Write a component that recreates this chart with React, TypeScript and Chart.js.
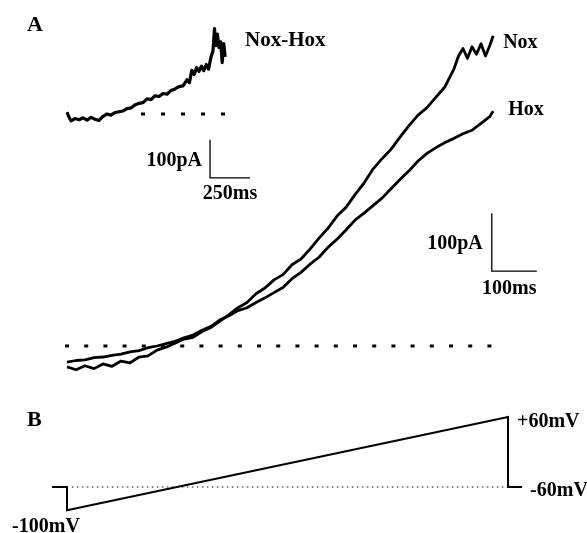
import { useEffect, useRef } from 'react';
import { Chart, registerables } from 'chart.js';

Chart.register(...registerables);

const W = 587;
const H = 533;

// ---- Panel A: whole-cell currents (time in ms, current in pA) ----
const NOX_T = [0, 20, 40, 60, 80, 100, 120, 140, 160, 180, 200, 220, 240, 260, 280, 300, 320, 340, 360, 380, 400, 420, 440, 460, 480, 500, 520, 540, 560, 580, 600, 620, 640, 660, 680, 700, 720, 740, 760, 780, 800, 820, 840, 860, 870, 880, 890, 900, 910, 920, 930, 940, 947];
const NOX_I = [-36, -41, -34, -39, -31, -35, -26, -29, -19, -17, -7, -2, 5, 12, 15, 25, 32, 43, 54, 66, 75, 90, 100, 114, 123, 140, 150, 167, 186, 203, 224, 239, 261, 281, 305, 323, 339, 360, 380, 398, 411, 429, 447, 478, 500, 513, 496, 516, 503, 521, 500, 519, 535];

const HOX_T = [0, 20, 40, 60, 80, 100, 120, 140, 160, 180, 200, 220, 240, 260, 280, 300, 320, 340, 360, 380, 400, 420, 440, 460, 480, 500, 520, 540, 560, 580, 600, 620, 640, 660, 680, 700, 720, 740, 760, 780, 800, 820, 840, 860, 880, 900, 920, 940, 947];
const HOX_I = [-28, -25, -24, -20, -19, -16, -14, -10, -8, -3, 0, 4, 8, 14, 19, 27, 34, 45, 52, 61, 66, 75, 83, 92, 101, 116, 127, 141, 153, 170, 184, 200, 217, 229, 242, 255, 271, 287, 302, 319, 332, 342, 351, 358, 366, 372, 384, 396, 405];

// Inset: Nox - Hox difference current
const DIFF_T = [0, 12, 25, 50, 75, 100, 125, 150, 175, 200, 225, 250, 275, 300, 325, 350, 375, 400, 425, 450, 475, 500, 525, 550, 575, 600, 625, 650, 675, 700, 725, 750, 765, 780, 795, 810, 825, 840, 855, 870, 885, 900, 912, 922, 930, 940, 950, 960, 970, 980, 988];
const DIFF_I = [5, -8, -18, -12, -15, -10, -16, -9, -14, -17, -6, 0, -3, 4, 6, 8, 14, 16, 24, 28, 30, 40, 38, 48, 46, 54, 52, 62, 66, 72, 74, 90, 82, 115, 104, 122, 112, 126, 114, 130, 118, 150, 165, 225, 180, 210, 175, 190, 135, 185, 150];

// ---- Panel B: voltage protocol (time in ms, potential in mV) ----
const PROTO_T = [-34, 0, 0, 1000, 1000, 1032];
const PROTO_MV = [-60, -60, -100, 60, -60, -60];
const HOLDING_MV = -60;

// scale bars: origin time, origin current, time length, current length
const BAR_MAIN = { t: 944, i: 129, dt: 100, di: 100 };
const BAR_INSET = { t: 894, i: -168, dt: 250, di: 100 };

// ---- layout helpers (pixel anchors -> axis ranges) ----
function xRange(px0: number, v0: number, ppu: number) {
  return { min: v0 - px0 / ppu, max: v0 + (W - px0) / ppu };
}
function yRange(py0: number, v0: number, ppu: number) {
  return { min: v0 - (H - py0) / ppu, max: v0 + py0 / ppu };
}

const FONT = "'Liberation Serif', 'Times New Roman', serif";

const pts = (xs: number[], ys: number[]) => xs.map((x, i) => ({ x, y: ys[i] }));

type Lbl = {
  text: string;
  xs: string; xv: number; ys: string; yv: number;
  dx: number; dy: number; size: number; align: CanvasTextAlign;
};

const LABELS: Lbl[] = [
  { text: 'Nox-Hox', xs: 'xI', xv: DIFF_T[DIFF_T.length - 1], ys: 'yI', yv: DIFF_I[DIFF_I.length - 1], dx: 20, dy: -16, size: 21, align: 'left' },
  { text: 'Nox', xs: 'x', xv: NOX_T[NOX_T.length - 1], ys: 'y', yv: NOX_I[NOX_I.length - 1], dx: 10, dy: 7, size: 20, align: 'left' },
  { text: 'Hox', xs: 'x', xv: HOX_T[HOX_T.length - 1], ys: 'y', yv: HOX_I[HOX_I.length - 1], dx: 15, dy: -1, size: 20, align: 'left' },
  { text: '100pA', xs: 'x', xv: BAR_MAIN.t, ys: 'y', yv: BAR_MAIN.i + BAR_MAIN.di / 2, dx: -9, dy: 2, size: 20, align: 'right' },
  { text: '100ms', xs: 'x', xv: BAR_MAIN.t + BAR_MAIN.dt / 2, ys: 'y', yv: BAR_MAIN.i, dx: -5, dy: 18, size: 20, align: 'center' },
  { text: '100pA', xs: 'xI', xv: BAR_INSET.t, ys: 'yI', yv: BAR_INSET.i + BAR_INSET.di / 2, dx: -8, dy: 2, size: 20, align: 'right' },
  { text: '250ms', xs: 'xI', xv: BAR_INSET.t + BAR_INSET.dt / 2, ys: 'yI', yv: BAR_INSET.i, dx: 0, dy: 16, size: 20, align: 'center' },
  { text: '-100mV', xs: 'xB', xv: PROTO_T[2], ys: 'yB', yv: PROTO_MV[2], dx: -21, dy: 16, size: 20, align: 'center' },
  { text: '+60mV', xs: 'xB', xv: PROTO_T[3], ys: 'yB', yv: PROTO_MV[3], dx: 9, dy: 5, size: 20, align: 'left' },
  { text: '-60mV', xs: 'xB', xv: PROTO_T[5], ys: 'yB', yv: PROTO_MV[5], dx: 8, dy: 4, size: 20, align: 'left' },
];

const labelPlugin = {
  id: 'figureLabels',
  afterDraw(chart: any) {
    const ctx = chart.ctx as CanvasRenderingContext2D;
    const s = chart.scales;
    ctx.save();
    ctx.fillStyle = '#000';
    ctx.textBaseline = 'middle';
    // panel letters
    ctx.font = `bold 22px ${FONT}`;
    ctx.textAlign = 'left';
    ctx.fillText('A', chart.chartArea.left + 27, chart.chartArea.top + 25);
    ctx.fillText('B', chart.chartArea.left + 27, chart.chartArea.top + 420);
    for (const L of LABELS) {
      const px = s[L.xs].getPixelForValue(L.xv) + L.dx;
      const py = s[L.ys].getPixelForValue(L.yv) + L.dy;
      ctx.font = `bold ${L.size}px ${FONT}`;
      ctx.textAlign = L.align;
      ctx.fillText(L.text, px, py);
    }
    ctx.restore();
  },
};

export default function App() {
  const ref = useRef<HTMLCanvasElement | null>(null);

  useEffect(() => {
    if (!ref.current) return;
    const base = {
      pointRadius: 0,
      borderColor: '#000',
      fill: false,
      tension: 0,
      borderJoinStyle: 'round' as const,
    };
    const chart = new Chart(ref.current, {
      type: 'line',
      data: {
        datasets: [
          { ...base, data: pts(NOX_T, NOX_I), borderWidth: 2.8, xAxisID: 'x', yAxisID: 'y' },
          { ...base, data: pts(HOX_T, HOX_I), borderWidth: 2.8, xAxisID: 'x', yAxisID: 'y' },
          {
            ...base,
            data: [{ x: -4.4, y: 0 }, { x: 946.7, y: 0 }],
            borderWidth: 3, borderDash: [4, 15.2], borderCapStyle: 'butt', xAxisID: 'x', yAxisID: 'y',
          },
          {
            ...base,
            data: [
              { x: BAR_MAIN.t, y: BAR_MAIN.i + BAR_MAIN.di },
              { x: BAR_MAIN.t, y: BAR_MAIN.i },
              { x: BAR_MAIN.t + BAR_MAIN.dt, y: BAR_MAIN.i },
            ],
            borderWidth: 1.3, borderJoinStyle: 'miter', xAxisID: 'x', yAxisID: 'y',
          },
          { ...base, data: pts(DIFF_T, DIFF_I), borderWidth: 3.2, xAxisID: 'xI', yAxisID: 'yI' },
          {
            ...base,
            data: [{ x: 462.5, y: 0 }, { x: 987.5, y: 0 }],
            borderWidth: 3, borderDash: [4, 16], borderCapStyle: 'butt', xAxisID: 'xI', yAxisID: 'yI',
          },
          {
            ...base,
            data: [
              { x: BAR_INSET.t, y: BAR_INSET.i + BAR_INSET.di },
              { x: BAR_INSET.t, y: BAR_INSET.i },
              { x: BAR_INSET.t + BAR_INSET.dt, y: BAR_INSET.i },
            ],
            borderWidth: 1.3, borderJoinStyle: 'miter', xAxisID: 'xI', yAxisID: 'yI',
          },
          {
            ...base,
            data: [{ x: 11, y: HOLDING_MV }, { x: 999, y: HOLDING_MV }],
            borderWidth: 1, borderDash: [1.5, 3.5], borderCapStyle: 'butt', borderColor: '#111', xAxisID: 'xB', yAxisID: 'yB',
          },
          { ...base, data: pts(PROTO_T, PROTO_MV), borderWidth: 2, borderJoinStyle: 'miter', xAxisID: 'xB', yAxisID: 'yB' },
        ],
      },
      options: {
        responsive: false,
        maintainAspectRatio: false,
        animation: false,
        devicePixelRatio: 1,
        layout: { padding: 0 },
        plugins: { legend: { display: false }, tooltip: { enabled: false } },
        events: [],
        scales: {
          x: { type: 'linear', display: false, ...xRange(67, 0, 0.45) },
          y: { type: 'linear', display: false, ...yRange(346, 0, 0.58) },
          xI: { type: 'linear', axis: 'x', display: false, ...xRange(67, 0, 0.16) },
          yI: { type: 'linear', axis: 'y', display: false, ...yRange(114, 0, 0.38) },
          xB: { type: 'linear', axis: 'x', display: false, ...xRange(67, 0, 0.441) },
          yB: { type: 'linear', axis: 'y', display: false, ...yRange(487, -60, 0.5833) },
        },
      } as any,
      plugins: [labelPlugin],
    });
    return () => chart.destroy();
  }, []);

  return (
    <div style={{ position: 'fixed', left: 0, top: 0, width: W, height: H, background: '#fff' }}>
      <canvas ref={ref} width={W} height={H} style={{ display: 'block', width: W, height: H }} />
    </div>
  );
}
